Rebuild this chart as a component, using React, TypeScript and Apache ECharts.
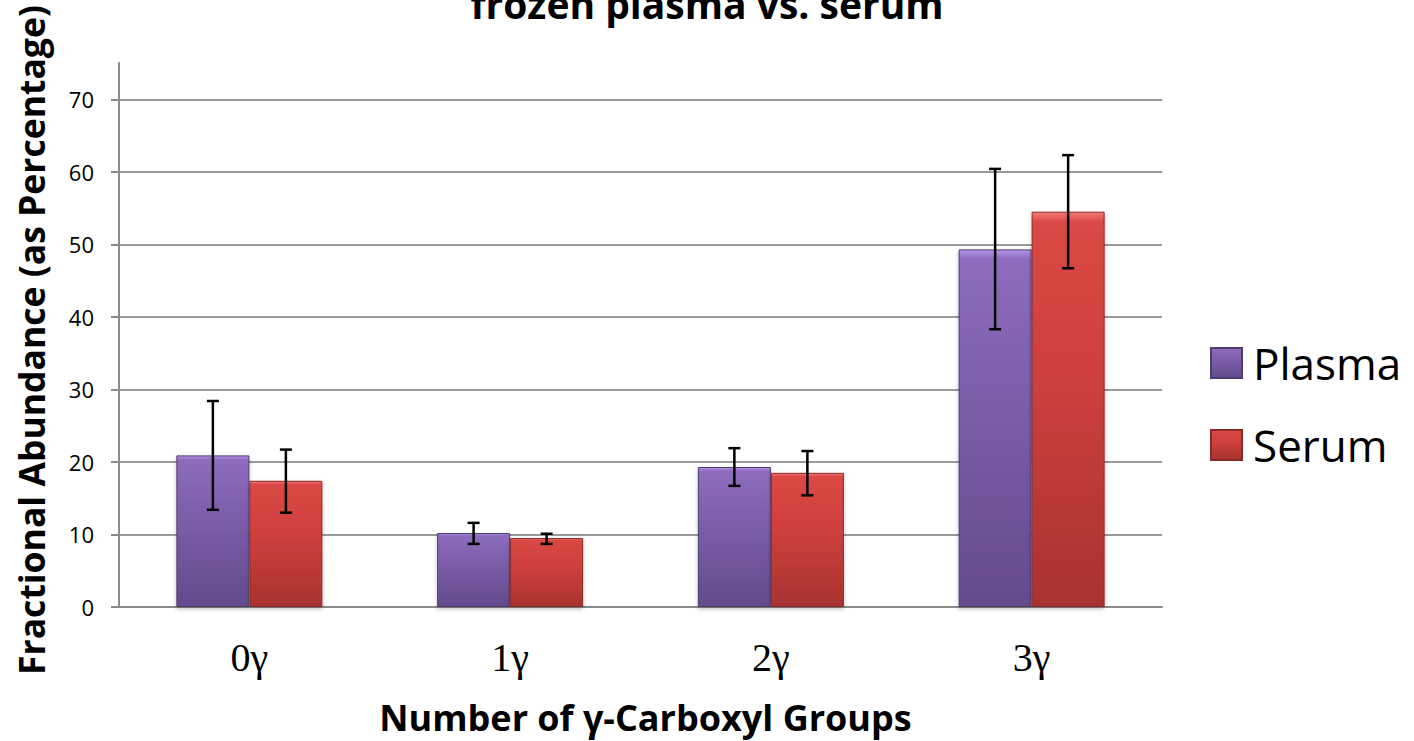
import React, { useEffect, useRef } from "react";
import * as echarts from "echarts";

const categories = ["0γ", "1γ", "2γ", "3γ"];
const plasmaValues = [20.9, 10.2, 19.3, 49.3];
const serumValues = [17.4, 9.5, 18.5, 54.5];
const plasmaLow = [13.4, 8.7, 16.7, 38.3];
const plasmaHigh = [28.4, 11.6, 21.9, 60.4];
const serumLow = [13.0, 8.7, 15.4, 46.7];
const serumHigh = [21.7, 10.1, 21.5, 62.3];
const yTicks = [0, 10, 20, 30, 40, 50, 60, 70];

const BAR_W = 73;
const SANS = "'Open Sans', 'DejaVu Sans', sans-serif";

const purple = new echarts.graphic.LinearGradient(0, 0, 0, 1, [
  { offset: 0, color: "#b595ec" },
  { offset: 0.025, color: "#8d6cbd" },
  { offset: 0.4, color: "#7c5eaa" },
  { offset: 1, color: "#634b8c" },
]);
const red = new echarts.graphic.LinearGradient(0, 0, 0, 1, [
  { offset: 0, color: "#f47a76" },
  { offset: 0.025, color: "#da4844" },
  { offset: 0.4, color: "#cf403d" },
  { offset: 1, color: "#a83330" },
]);

function errorSeries(low: number[], high: number[], side: number) {
  return {
    type: "custom",
    name: "err" + side,
    silent: true,
    z: 10,
    data: low.map((l, i) => [i, l, high[i]]),
    encode: { x: 0, y: [1, 2] },
    renderItem: (params: any, api: any) => {
      const i = api.value(0);
      const pLow = api.coord([i, api.value(1)]);
      const pHigh = api.coord([i, api.value(2)]);
      const x = pLow[0] + side * (BAR_W / 2);
      const cap = 6;
      const style = { stroke: "#000", lineWidth: 2.5 };
      return {
        type: "group",
        children: [
          { type: "line", shape: { x1: x, y1: pLow[1], x2: x, y2: pHigh[1] }, style },
          { type: "line", shape: { x1: x - cap, y1: pLow[1], x2: x + cap, y2: pLow[1] }, style },
          { type: "line", shape: { x1: x - cap, y1: pHigh[1], x2: x + cap, y2: pHigh[1] }, style },
        ],
      };
    },
  };
}

export default function App() {
  const ref = useRef<HTMLDivElement>(null);
  useEffect(() => {
    if (!ref.current) return;
    const chart = echarts.init(ref.current, null, { renderer: "svg" });
    chart.setOption({
      animation: false,
      backgroundColor: "#ffffff",
      title: {
        text: "frozen plasma vs. serum",
        left: "center",
        top: -21,
        textStyle: { fontFamily: SANS, fontSize: 39, fontWeight: "bold", color: "#000" },
      },
      legend: {
        data: ["Plasma", "Serum"],
        orient: "vertical",
        left: 1205,
        top: 336,
        itemWidth: 31,
        itemHeight: 30,
        itemGap: 38,
        icon: "rect",
        textStyle: { fontFamily: SANS, fontSize: 44, color: "#000", lineHeight: 42, padding: [0, 0, 0, 6] },
      },
      grid: { left: 119, right: 252, top: 63, bottom: 134, outerBoundsMode: "none", containLabel: false },
      xAxis: {
        type: "category",
        data: categories,
        axisLine: { lineStyle: { color: "#8a8a8a", width: 2 } },
        axisTick: { show: false },
        axisLabel: {
          fontFamily: "'Liberation Serif', 'Times New Roman', serif",
          fontSize: 40,
          color: "#000",
          margin: 30,
        },
        name: "Number of γ-Carboxyl Groups",
        nameLocation: "middle",
        nameGap: 92,
        nameTextStyle: { fontFamily: SANS, fontSize: 36, fontWeight: "bold", color: "#000", padding: [0, 0, 0, 10] },
      },
      yAxis: {
        type: "value",
        min: 0,
        max: 75,
        interval: 10,
        axisLine: { show: true, lineStyle: { color: "#8a8a8a", width: 2 } },
        axisTick: {
          show: true,
          length: 8,
          lineStyle: { color: "#8a8a8a", width: 2 },
          customValues: yTicks,
        },
        axisLabel: {
          fontFamily: SANS,
          fontSize: 22,
          color: "#000",
          margin: 25,
          customValues: yTicks,
        },
        splitLine: { show: true, lineStyle: { color: "#999999", width: 2 } },
        name: "Fractional Abundance (as Percentage)",
        nameLocation: "middle",
        nameGap: 70,
        nameTextStyle: {
          fontFamily: SANS,
          fontSize: 35.5,
          fontWeight: "bold",
          color: "#000",
          padding: [0, 10, 0, 0],
        },
      },
      series: [
        {
          type: "bar",
          name: "Plasma",
          data: plasmaValues,
          barWidth: BAR_W,
          barGap: "0%",
          itemStyle: {
            color: purple,
            borderColor: "#4f3c70",
            borderWidth: 1,
            shadowColor: "rgba(0,0,0,0.25)",
            shadowBlur: 4,
            shadowOffsetY: 2,
          },
        },
        {
          type: "bar",
          name: "Serum",
          data: serumValues,
          barWidth: BAR_W,
          barGap: "0%",
          itemStyle: {
            color: red,
            borderColor: "#8a2a28",
            borderWidth: 1,
            shadowColor: "rgba(0,0,0,0.25)",
            shadowBlur: 4,
            shadowOffsetY: 2,
          },
        },
        errorSeries(plasmaLow, plasmaHigh, -1),
        errorSeries(serumLow, serumHigh, 1),
      ],
    });
    return () => chart.dispose();
  }, []);
  return (
    <div
      ref={ref}
      style={{ position: "absolute", left: 0, top: 0, width: 1414, height: 741 }}
    />
  );
}
